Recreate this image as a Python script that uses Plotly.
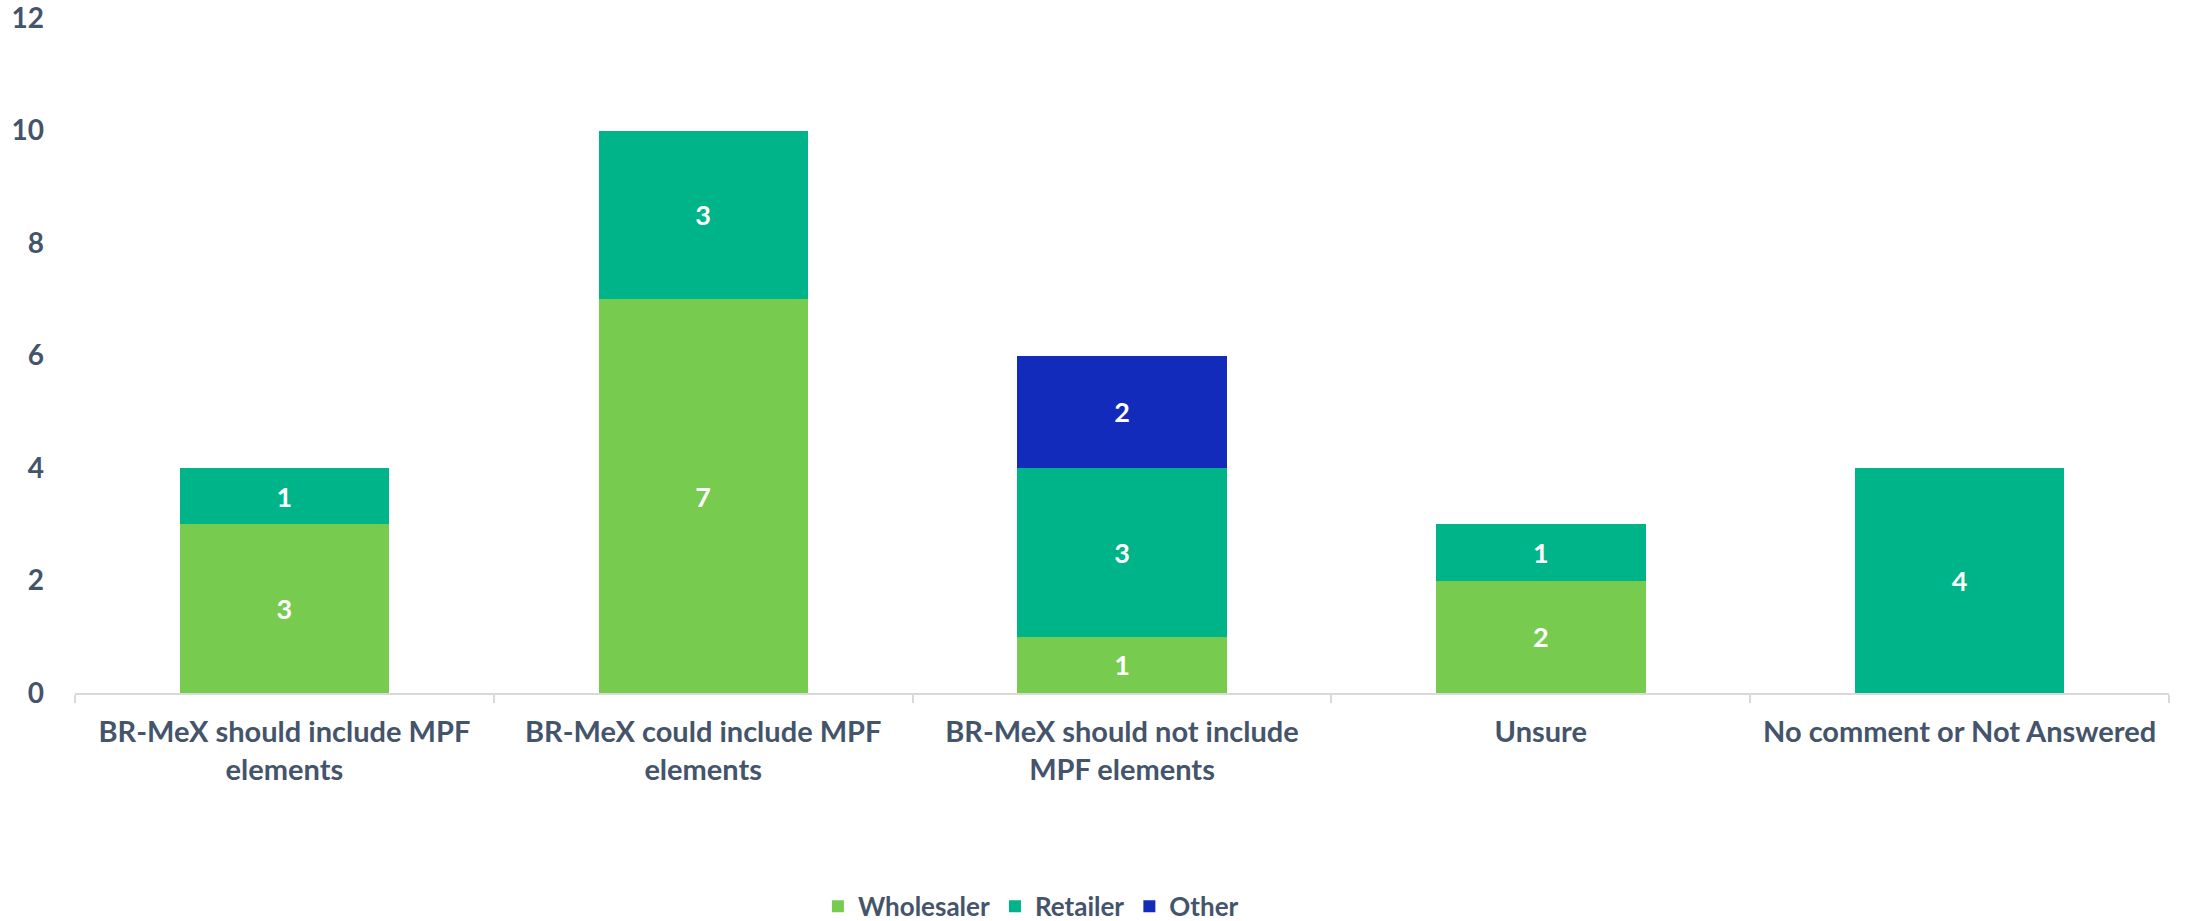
import plotly.graph_objects as go

categories = [
    "BR-MeX should include MPF<br>elements",
    "BR-MeX could include MPF<br>elements",
    "BR-MeX should not include<br>MPF elements",
    "Unsure",
    "No comment or Not Answered",
]
wholesaler = [3, 7, 1, 2, 0]
retailer = [1, 3, 3, 1, 4]
other = [0, 0, 2, 0, 0]
y_ticks = [0, 2, 4, 6, 8, 10, 12]

series = [
    ("Wholesaler", wholesaler, "#77CB4F"),
    ("Retailer", retailer, "#00B48A"),
    ("Other", other, "#132BBB"),
]

FONT = "Lato"
TEXT_COLOR = "#44546A"

fig = go.Figure()
for name, vals, color in series:
    fig.add_trace(go.Bar(
        name=name,
        x=categories,
        y=vals,
        marker=dict(color=color, line=dict(width=0)),
        text=[str(v) if v else "" for v in vals],
        textposition="inside",
        insidetextanchor="middle",
        textangle=0,
        textfont=dict(family=FONT, size=27, color="white", weight="bold"),
        hoverinfo="skip",
    ))

fig.update_layout(
    width=2189,
    height=921,
    barmode="stack",
    bargap=0.5,
    plot_bgcolor="white",
    paper_bgcolor="white",
    margin=dict(l=75, r=20, t=18, b=228, autoexpand=False),
    font=dict(family=FONT, size=28, color=TEXT_COLOR, weight="bold"),
    uniformtext=dict(mode="show", minsize=20),
    showlegend=True,
    legend=dict(
        orientation="h",
        x=0.4565, xanchor="center",
        y=-0.316, yanchor="middle",
        font=dict(family=FONT, size=26, color=TEXT_COLOR, weight="bold"),
        itemsizing="constant",
        traceorder="normal",
    ),
)

fig.update_xaxes(
    automargin=False,
    showline=True,
    linecolor="#D9D9D9",
    linewidth=2,
    ticks="outside",
    tickson="boundaries",
    ticklen=8,
    tickcolor="#D9D9D9",
    tickwidth=2,
    showgrid=False,
    ticklabelstandoff=12,
    tickfont=dict(family=FONT, size=29, color=TEXT_COLOR, weight="bold"),
)

fig.update_yaxes(
    automargin=False,
    range=[0, 12],
    tickmode="array",
    tickvals=y_ticks,
    ticktext=[str(v) for v in y_ticks],
    ticklabeloverflow="allow",
    showgrid=False,
    showline=False,
    zeroline=False,
    ticks="",
    ticklabelstandoff=30,
    tickfont=dict(family=FONT, size=28, color=TEXT_COLOR, weight="bold"),
)

fig.write_html("out.html")
